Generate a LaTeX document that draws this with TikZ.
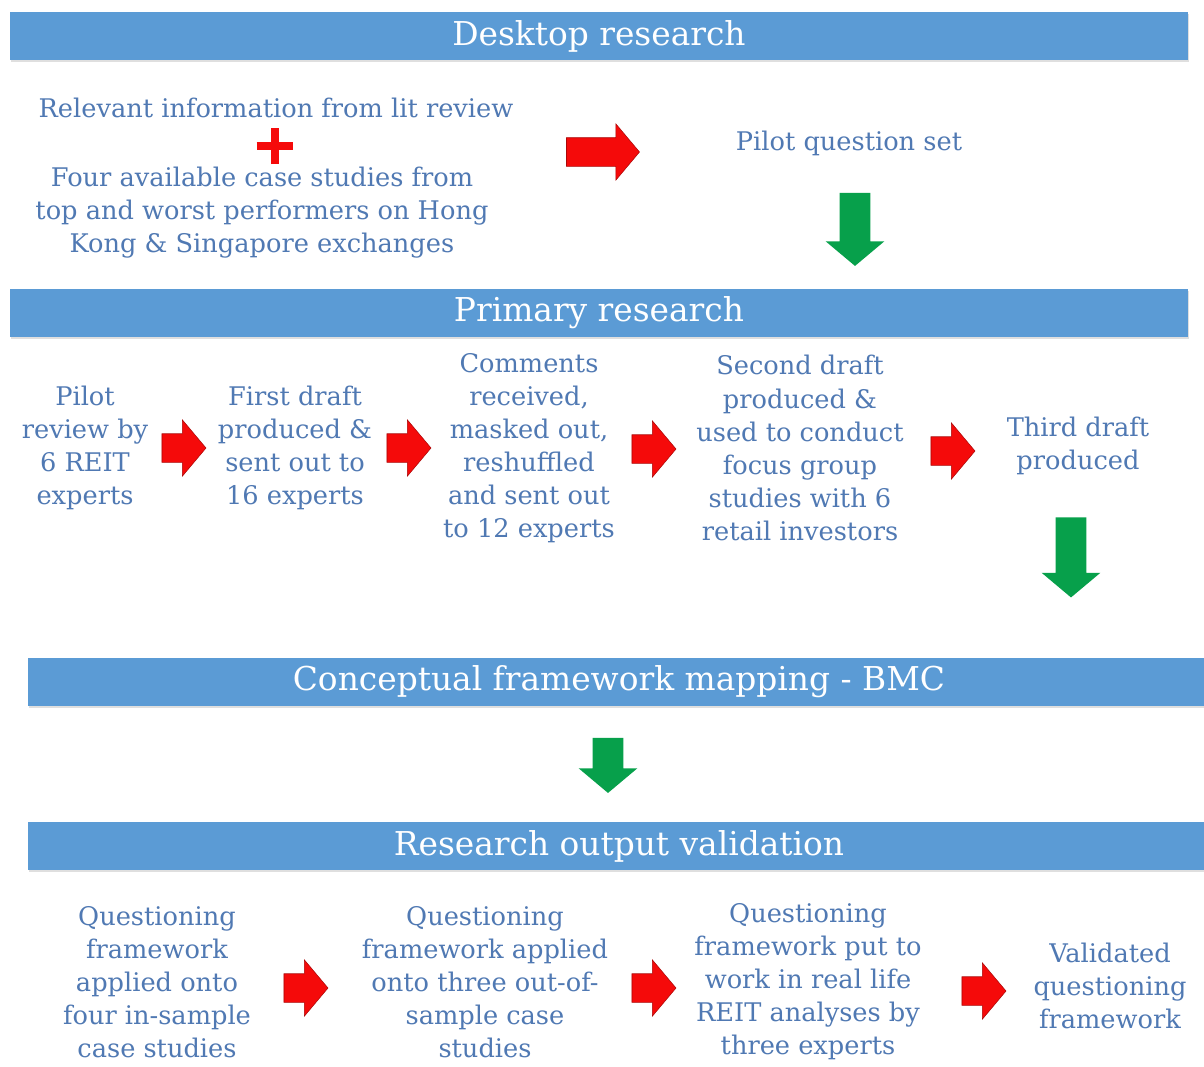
\documentclass[tikz,border=0pt]{standalone}
\usepackage{fontspec}
\setmainfont{DejaVu Serif}
\usepackage{tikz}
\usepackage{xcolor}
\usetikzlibrary{shapes.arrows,shadows,positioning}
\definecolor{barblue}{HTML}{5B9BD5}
\definecolor{inkblue}{HTML}{5079B3}
\definecolor{arrred}{HTML}{F50A0A}
\definecolor{arrgreen}{HTML}{07A04B}
\tikzset{
  phasebar/.style={
    fill=barblue, draw=none, minimum height=0.96cm, inner sep=0pt,
    text=white, font=\fontsize{18.7}{22}\selectfont,
    drop shadow={shadow xshift=0.6pt, shadow yshift=-1.2pt, opacity=0.25}
  },
  steptext/.style={
    align=center, text=inkblue, inner sep=2pt,
    font=\fontsize{14.6}{18.8}\selectfont
  },
  redarrow/.style={
    single arrow, fill=arrred, draw=arrred!70!black, line width=0.3pt,
    inner xsep=0pt, inner ysep=0.28cm, single arrow head extend=0.28cm,
    single arrow tip angle=100, minimum height=0.88cm
  },
  greenarrow/.style={
    single arrow, fill=arrgreen, draw=none, rotate=-90,
    inner xsep=0pt, inner ysep=0.3cm, single arrow head extend=0.28cm,
    single arrow tip angle=100
  }
}

\begin{document}
\begin{tikzpicture}[x=0.02cm,y=-0.02cm]
  \useasboundingbox[fill=white] (0,0) rectangle (1204,1066);

  % desktop research
  \node[phasebar,minimum width=23.56cm] (desk) at (599,36) {Desktop research};
  \node[steptext] (lit) at (276,108) {Relevant information from lit review};
  \coordinate (plus) at (275,146);
  \draw[arrred,line width=0.16cm] ([xshift=-0.37cm]plus) -- ([xshift=0.37cm]plus)
    ([yshift=-0.36cm]plus) -- ([yshift=0.36cm]plus);
  \node[steptext] (cases) at (262,213) {Four available case studies from\\
    top and worst performers on Hong\\Kong \& Singapore exchanges};
  \node[redarrow,minimum height=1.46cm] (ar0) at (597,152) {};
  \node[steptext] (pilotq) at (849,143) {Pilot question set};
  \node[greenarrow,minimum height=1.46cm] (dn1) at (855,223) {};

  % primary research
  \node[phasebar,minimum width=23.56cm] (prim) at (599,313) {Primary research};
  \node[steptext] (p1) at (85,448) {Pilot\\review by\\6 REIT\\experts};
  \node[redarrow] (ar1) at (178,448) {};
  \node[steptext] (p2) at (295,448) {First draft\\produced \&\\sent out to\\16 experts};
  \node[redarrow] (ar2) at (403,448) {};
  \node[steptext] (p3) at (529,448) {Comments\\received,\\masked out,\\reshuffled\\and sent out\\to 12 experts};
  \node[redarrow] (ar3) at (648,449) {};
  \node[steptext] (p4) at (800,448) {Second draft\\produced \&\\used to conduct\\focus group\\studies with 6\\retail investors};
  \node[redarrow] (ar4) at (947,451) {};
  \node[steptext] (p5) at (1078,446) {Third draft\\produced};
  \node[greenarrow,minimum height=1.6cm] (dn2) at (1071,551) {};

  % framework mapping
  \node[phasebar,minimum width=23.64cm] (bmc) at (619,682) {Conceptual framework mapping - BMC};
  \node[greenarrow,minimum height=1.1cm] (dn3) at (608,759) {};

  % validation
  \node[phasebar,minimum width=23.64cm] (valid) at (619,846) {Research output validation};
  \node[steptext] (v1) at (157,982) {Questioning\\framework\\applied onto\\four in-sample\\case studies};
  \node[redarrow] (ar5) at (300,988) {};
  \node[steptext] (v2) at (485,982) {Questioning\\framework applied\\onto three out-of-\\sample case\\studies};
  \node[redarrow] (ar6) at (648,988) {};
  \node[steptext] (v3) at (808,982) {Questioning\\framework put to\\work in real life\\REIT analyses by\\three experts};
  \node[redarrow] (ar7) at (978,991) {};
  \node[steptext] (v4) at (1110,986) {Validated\\questioning\\framework};
\end{tikzpicture}
\end{document}
